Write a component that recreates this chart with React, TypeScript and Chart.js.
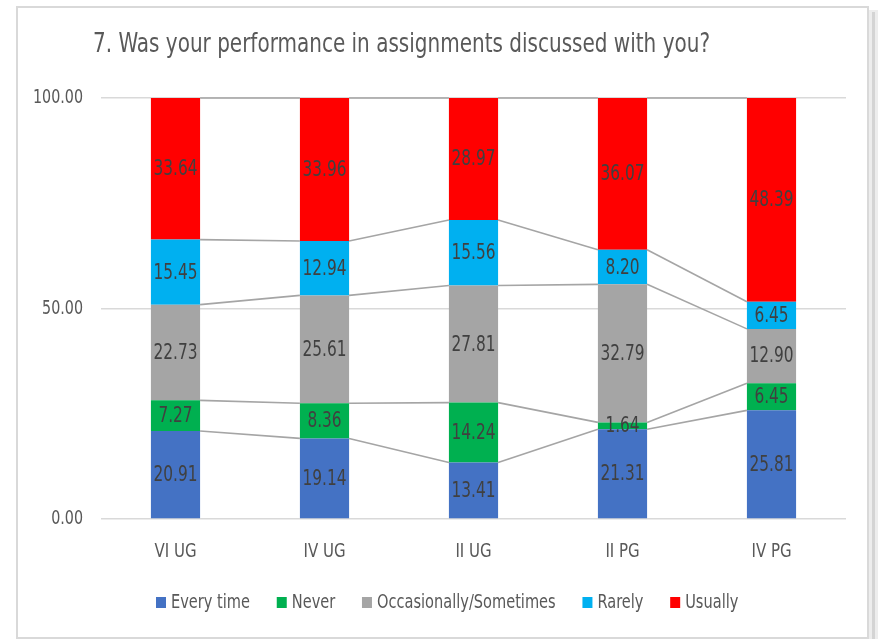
import React, { useEffect, useRef } from "react";
import { Chart, registerables } from "chart.js";

Chart.register(...registerables);

const categories = ["VI UG", "IV UG", "II UG", "II PG", "IV PG"];
const everyTime = [20.91, 19.14, 13.41, 21.31, 25.81];
const never = [7.27, 8.36, 14.24, 1.64, 6.45];
const occasionally = [22.73, 25.61, 27.81, 32.79, 12.9];
const rarely = [15.45, 12.94, 15.56, 8.2, 6.45];
const usually = [33.64, 33.96, 28.97, 36.07, 48.39];
const seriesNames = ["Every time", "Never", "Occasionally/Sometimes", "Rarely", "Usually"];
const seriesColors = ["#4472C4", "#00B050", "#A5A5A5", "#00B0F0", "#FF0000"];
const yTickValues = [0, 50, 100];
const titleText = "7. Was your performance in assignments discussed with you?";

const FONT = '"DejaVu Sans Condensed", "Liberation Sans Narrow", sans-serif';

function scaledText(ctx: any, text: string, x: number, y: number, sx: number) {
  ctx.save();
  ctx.translate(x, y);
  ctx.scale(sx, 1);
  ctx.fillText(text, 0, 0);
  ctx.restore();
}

const framePlugin = {
  id: "frame",
  beforeDraw(chart: any) {
    const { ctx, width, height } = chart;
    ctx.save();
    ctx.fillStyle = "#FFFFFF";
    ctx.fillRect(0, 0, width, height);
    ctx.fillStyle = "#EDEDED";
    ctx.fillRect(869, 10, 9, 629);
    ctx.fillStyle = "#D4D4D4";
    ctx.fillRect(872, 12, 3, 627);
    ctx.strokeStyle = "#D9D9D9";
    ctx.lineWidth = 2;
    ctx.strokeRect(17, 7, 851, 631);
    ctx.restore();
  },
};

const seriesLinesPlugin = {
  id: "seriesLines",
  afterDatasetsDraw(chart: any) {
    const { ctx } = chart;
    ctx.save();
    ctx.strokeStyle = "#A5A5A5";
    ctx.lineWidth = 1.6;
    chart.data.datasets.forEach((_: any, di: number) => {
      const meta = chart.getDatasetMeta(di);
      const els = meta.data;
      for (let i = 0; i < els.length - 1; i++) {
        const a = els[i];
        const b = els[i + 1];
        ctx.beginPath();
        ctx.moveTo(a.x + a.width / 2, a.y);
        ctx.lineTo(b.x - b.width / 2, b.y);
        ctx.stroke();
      }
    });
    ctx.restore();
  },
};

const labelsPlugin = {
  id: "valueLabels",
  afterDatasetsDraw(chart: any) {
    const { ctx } = chart;
    ctx.save();
    ctx.fillStyle = "#404040";
    ctx.font = `21px ${FONT}`;
    ctx.textAlign = "center";
    ctx.textBaseline = "middle";
    const sx = 44 / ctx.measureText("20.91").width;
    chart.data.datasets.forEach((ds: any, di: number) => {
      const meta = chart.getDatasetMeta(di);
      meta.data.forEach((el: any, i: number) => {
        const v = ds.data[i];
        const y = (el.y + el.base) / 2;
        scaledText(ctx, Number(v).toFixed(2), el.x, y + 1, sx);
      });
    });
    ctx.restore();
  },
};

const axisTextPlugin = {
  id: "axisText",
  afterDraw(chart: any) {
    const { ctx, scales } = chart;
    ctx.save();
    ctx.fillStyle = "#595959";
    ctx.font = `20px ${FONT}`;
    ctx.textAlign = "right";
    ctx.textBaseline = "middle";
    const sy = 50 / ctx.measureText("100.00").width;
    scales.y.ticks.forEach((t: any) => {
      scaledText(ctx, Number(t.value).toFixed(2), 83, scales.y.getPixelForValue(t.value), sy);
    });
    ctx.font = `19px ${FONT}`;
    ctx.textAlign = "center";
    ctx.textBaseline = "alphabetic";
    const sxx = 42 / ctx.measureText("VI UG").width;
    chart.data.labels.forEach((lab: string, i: number) => {
      scaledText(ctx, lab, scales.x.getPixelForValue(i), 557, sxx);
    });
    ctx.restore();
  },
};

const titleLegendPlugin = {
  id: "titleLegend",
  afterDraw(chart: any) {
    const { ctx } = chart;
    ctx.save();
    ctx.fillStyle = "#595959";
    ctx.font = `27px ${FONT}`;
    ctx.textAlign = "left";
    ctx.textBaseline = "alphabetic";
    const tw = ctx.measureText(titleText).width;
    scaledText(ctx, titleText, 93, 52, 617 / tw);

    ctx.font = `20px ${FONT}`;
    ctx.textBaseline = "alphabetic";
    const sx = 79 / ctx.measureText("Every time").width;
    let x = 156;
    const base = 608;
    chart.data.datasets.forEach((ds: any) => {
      ctx.fillStyle = ds.backgroundColor;
      ctx.fillRect(x, 597, 10, 11);
      x += 15;
      ctx.fillStyle = "#595959";
      scaledText(ctx, ds.label, x, base, sx);
      x += ctx.measureText(ds.label).width * sx + 26.75;
    });
    ctx.restore();
  },
};

export default function App() {
  const ref = useRef<HTMLCanvasElement | null>(null);
  useEffect(() => {
    document.body.style.margin = "0";
    const values = [everyTime, never, occasionally, rarely, usually];
    const chart = new Chart(ref.current as HTMLCanvasElement, {
      type: "bar",
      data: {
        labels: categories,
        datasets: values.map((d, i) => ({
          label: seriesNames[i],
          data: d,
          backgroundColor: seriesColors[i],
          borderWidth: 0,
          barPercentage: 0.33,
          categoryPercentage: 1,
        })),
      },
      options: {
        animation: false,
        responsive: false,
        maintainAspectRatio: false,
        layout: { padding: { left: 20, right: 32, top: 98, bottom: 80 } },
        plugins: {
          legend: { display: false },
          title: { display: false },
          tooltip: { enabled: false },
        },
        scales: {
          x: {
            stacked: true,
            grid: { display: false },
            border: { display: false },
            ticks: { display: false },
            afterFit(scale: any) {
              scale.height = 40;
            },
          },
          y: {
            stacked: true,
            min: 0,
            max: 100,
            afterBuildTicks(scale: any) {
              scale.ticks = yTickValues.map((v) => ({ value: v }));
            },
            grid: { color: "#D9D9D9", lineWidth: 1.5, drawTicks: false },
            border: { display: false },
            ticks: { display: false },
            afterFit(scale: any) {
              scale.width = 81;
            },
          },
        },
      },
      plugins: [framePlugin, seriesLinesPlugin, labelsPlugin, axisTextPlugin, titleLegendPlugin],
    } as any);
    return () => chart.destroy();
  }, []);
  return <canvas ref={ref} width={878} height={639} style={{ display: "block" }} />;
}
